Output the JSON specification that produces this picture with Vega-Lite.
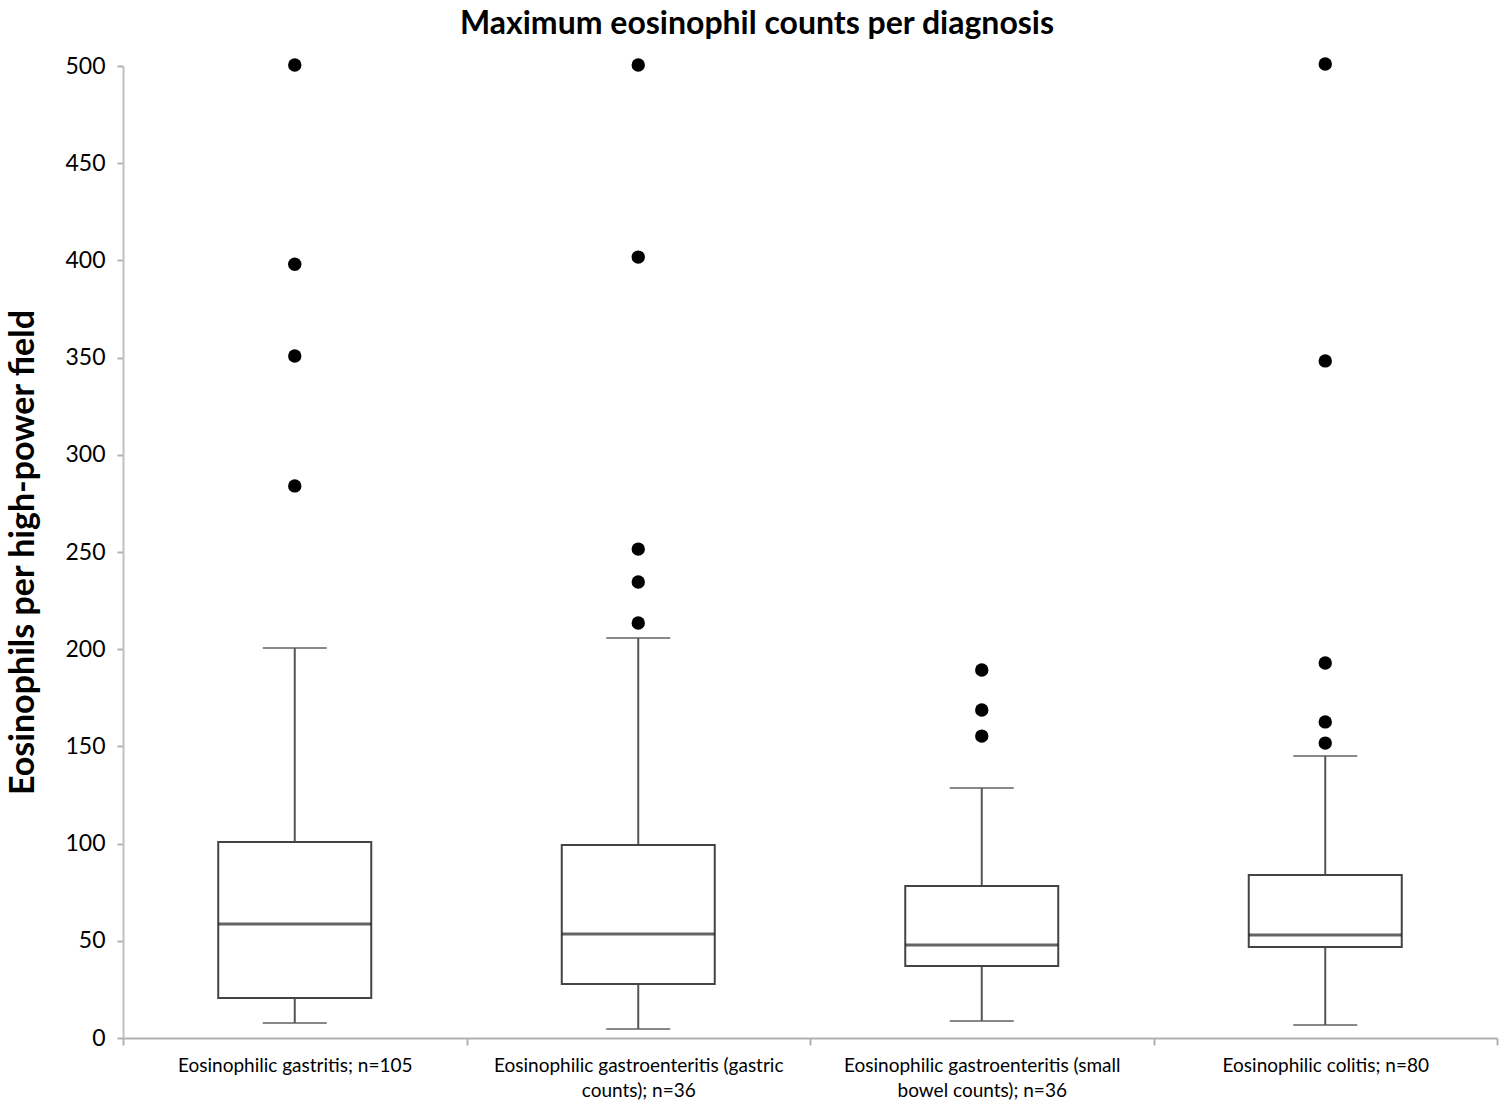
{
  "$schema": "https://vega.github.io/schema/vega-lite/v6.json",
  "width": 1374,
  "height": 972,
  "autosize": {"type": "none"},
  "padding": {"left": 123, "top": 66, "right": 4, "bottom": 67},
  "background": "white",
  "config": {
    "view": {"stroke": null},
    "font": "Lato"
  },
  "title": {
    "text": "Maximum eosinophil counts per diagnosis",
    "font": "Lato",
    "fontSize": 32,
    "fontWeight": "bold",
    "color": "black",
    "anchor": "middle",
    "offset": 14,
    "dx": -53
  },
  "datasets": {
    "boxes": [
      {"diagnosis": "Eosinophilic gastritis; n=105", "lower": 7.7, "q1": 20.6, "median": 58.6, "q3": 100.8, "upper": 200.6},
      {"diagnosis": "Eosinophilic gastroenteritis (gastric counts); n=36", "lower": 4.6, "q1": 27.8, "median": 53.5, "q3": 99.3, "upper": 205.8},
      {"diagnosis": "Eosinophilic gastroenteritis (small bowel counts); n=36", "lower": 8.7, "q1": 37, "median": 47.8, "q3": 78.2, "upper": 128.6},
      {"diagnosis": "Eosinophilic colitis; n=80", "lower": 6.7, "q1": 46.8, "median": 53, "q3": 83.8, "upper": 145}
    ],
    "outliers": [
      {"diagnosis": "Eosinophilic gastritis; n=105", "value": 500.5},
      {"diagnosis": "Eosinophilic gastritis; n=105", "value": 398},
      {"diagnosis": "Eosinophilic gastritis; n=105", "value": 350.8},
      {"diagnosis": "Eosinophilic gastritis; n=105", "value": 284},
      {"diagnosis": "Eosinophilic gastroenteritis (gastric counts); n=36", "value": 500.5},
      {"diagnosis": "Eosinophilic gastroenteritis (gastric counts); n=36", "value": 401.7},
      {"diagnosis": "Eosinophilic gastroenteritis (gastric counts); n=36", "value": 251.5},
      {"diagnosis": "Eosinophilic gastroenteritis (gastric counts); n=36", "value": 234.6},
      {"diagnosis": "Eosinophilic gastroenteritis (gastric counts); n=36", "value": 213.5},
      {"diagnosis": "Eosinophilic gastroenteritis (small bowel counts); n=36", "value": 189.3},
      {"diagnosis": "Eosinophilic gastroenteritis (small bowel counts); n=36", "value": 168.7},
      {"diagnosis": "Eosinophilic gastroenteritis (small bowel counts); n=36", "value": 155.3},
      {"diagnosis": "Eosinophilic colitis; n=80", "value": 501},
      {"diagnosis": "Eosinophilic colitis; n=80", "value": 348.3},
      {"diagnosis": "Eosinophilic colitis; n=80", "value": 192.9},
      {"diagnosis": "Eosinophilic colitis; n=80", "value": 162.6},
      {"diagnosis": "Eosinophilic colitis; n=80", "value": 151.7}
    ]
  },
  "encoding": {
    "x": {
      "field": "diagnosis",
      "type": "nominal",
      "sort": null,
      "scale": {"paddingInner": 0, "paddingOuter": 0},
      "axis": {
        "title": null,
        "labelAngle": 0,
        "labelFont": "Lato",
        "labelFontSize": 19,
        "labelColor": "black",
        "labelPadding": 11,
        "labelLineHeight": 25,
        "labelBaseline": "top",
        "labelLimit": 400,
        "labelExpr": "datum.label == 'Eosinophilic gastroenteritis (gastric counts); n=36' ? ['Eosinophilic gastroenteritis (gastric', 'counts); n=36'] : datum.label == 'Eosinophilic gastroenteritis (small bowel counts); n=36' ? ['Eosinophilic gastroenteritis (small', 'bowel counts); n=36'] : datum.label",
        "tickBand": "extent",
        "tickColor": "#b0b0b0",
        "tickSize": 7,
        "tickWidth": 2,
        "domainColor": "#b0b0b0",
        "domainWidth": 2
      }
    }
  },
  "layer": [
    {
      "data": {"name": "boxes"},
      "mark": {"type": "rule", "color": "#555555", "strokeWidth": 2},
      "encoding": {
        "y": {
          "field": "lower",
          "type": "quantitative",
          "scale": {"domain": [0, 500], "nice": false},
          "axis": {
            "title": "Eosinophils per high-power field",
            "titleFont": "Lato",
            "titleFontSize": 34,
            "titleFontWeight": "bold",
            "titleColor": "black",
            "titlePadding": 24,
            "values": [0, 50, 100, 150, 200, 250, 300, 350, 400, 450, 500],
            "labelFont": "Lato",
            "labelFontSize": 23,
            "labelColor": "black",
            "labelPadding": 12,
            "tickColor": "#b0b0b0",
            "tickSize": 6,
            "tickWidth": 2,
            "domainColor": "#c0c0c0",
            "domainWidth": 2,
            "grid": false
          }
        },
        "y2": {"field": "q1"}
      }
    },
    {
      "data": {"name": "boxes"},
      "mark": {"type": "rule", "color": "#555555", "strokeWidth": 2},
      "encoding": {
        "y": {"field": "q3", "type": "quantitative"},
        "y2": {"field": "upper"}
      }
    },
    {
      "data": {"name": "boxes"},
      "mark": {"type": "tick", "color": "#555555", "size": 64, "thickness": 2},
      "encoding": {"y": {"field": "lower", "type": "quantitative"}}
    },
    {
      "data": {"name": "boxes"},
      "mark": {"type": "tick", "color": "#555555", "size": 64, "thickness": 2},
      "encoding": {"y": {"field": "upper", "type": "quantitative"}}
    },
    {
      "data": {"name": "boxes"},
      "mark": {"type": "bar", "size": 153, "fill": "white", "stroke": "#444444", "strokeWidth": 2},
      "encoding": {
        "y": {"field": "q1", "type": "quantitative"},
        "y2": {"field": "q3"}
      }
    },
    {
      "data": {"name": "boxes"},
      "mark": {"type": "tick", "color": "#222222", "size": 153, "thickness": 3},
      "encoding": {"y": {"field": "median", "type": "quantitative"}}
    },
    {
      "data": {"name": "outliers"},
      "mark": {"type": "point", "filled": true, "shape": "circle", "size": 180, "color": "black", "opacity": 1},
      "encoding": {"y": {"field": "value", "type": "quantitative"}}
    }
  ]
}
